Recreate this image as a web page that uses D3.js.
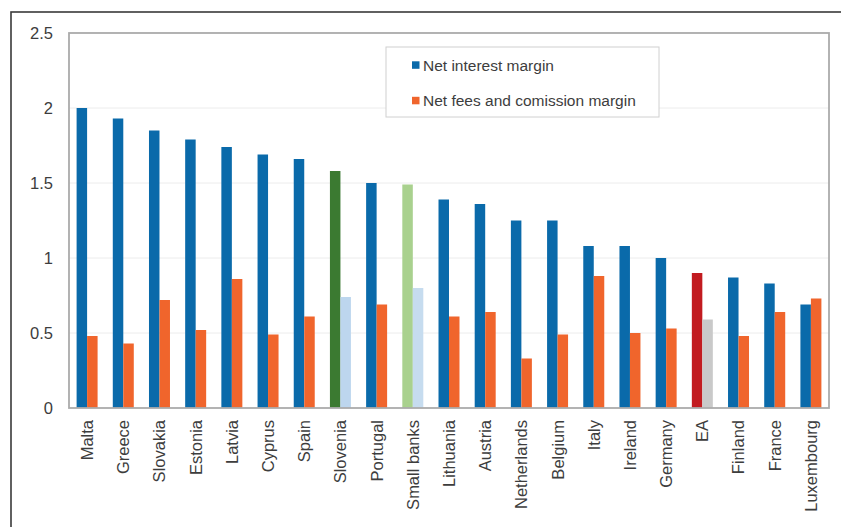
<!DOCTYPE html>
<html>
<head>
<meta charset="utf-8">
<script src="https://cdn.jsdelivr.net/npm/d3@7/dist/d3.min.js"></script>
<style>
  html, body { margin: 0; padding: 0; background: #fff; }
  svg { display: block; font-family: "Liberation Sans", Arial, sans-serif; }
</style>
</head>
<body>
<svg id="chart" width="841" height="527"></svg>
<script>
// Banking margins by country (percent of assets)
const categories = ["Malta", "Greece", "Slovakia", "Estonia", "Latvia", "Cyprus", "Spain",
  "Slovenia", "Portugal", "Small banks", "Lithuania", "Austria", "Netherlands", "Belgium",
  "Italy", "Ireland", "Germany", "EA", "Finland", "France", "Luxembourg"];
const netInterestMargin = [2.00, 1.93, 1.85, 1.79, 1.74, 1.69, 1.66,
  1.58, 1.50, 1.49, 1.39, 1.36, 1.25, 1.25,
  1.08, 1.08, 1.00, 0.90, 0.87, 0.83, 0.69];
const netFeesMargin = [0.48, 0.43, 0.72, 0.52, 0.86, 0.49, 0.61,
  0.74, 0.69, 0.80, 0.61, 0.64, 0.33, 0.49,
  0.88, 0.50, 0.53, 0.59, 0.48, 0.64, 0.73];
const seriesNames = ["Net interest margin", "Net fees and comission margin"];
const yTicks = [0, 0.5, 1, 1.5, 2, 2.5];
const yTickLabels = ["0", "0.5", "1", "1.5", "2", "2.5"];

// Colours: default pair, with highlighted groups
const defaultColors = ["#0a6aaa", "#f0652c"];
const highlightColors = {
  "Slovenia": ["#3b7a31", "#bdd6ee"],
  "Small banks": ["#a9d18e", "#c6dcef"],
  "EA": ["#c21b20", "#c9c9c9"]
};

const svg = d3.select("#chart");
const plot = { left: 69, right: 829, top: 33, bottom: 408 };

// Outer frame
svg.append("rect")
  .attr("x", 11).attr("y", 12)
  .attr("width", 850).attr("height", 540)
  .attr("fill", "none").attr("stroke", "#3a3a3a").attr("stroke-width", 1.6);

const x = d3.scaleBand().domain(categories)
  .range([plot.left, plot.right]).paddingInner(0.42).paddingOuter(0.21);
const xInner = d3.scaleBand().domain([0, 1]).range([0, x.bandwidth()]).padding(0);
const y = d3.scaleLinear().domain([0, 2.5]).range([plot.bottom, plot.top]);

// Gridlines
svg.append("g").selectAll("line")
  .data(yTicks.filter(t => t > 0 && t < 2.5))
  .join("line")
  .attr("x1", plot.left).attr("x2", plot.right)
  .attr("y1", d => y(d)).attr("y2", d => y(d))
  .attr("stroke", "#ececec").attr("stroke-width", 1);

// Y axis labels
const yAxis = d3.axisLeft(y).tickValues(yTicks)
  .tickFormat((d, i) => yTickLabels[i]).tickSize(0).tickPadding(16);
const yg = svg.append("g").attr("transform", `translate(${plot.left},0)`).call(yAxis);
yg.select(".domain").remove();
yg.selectAll("text").attr("font-size", "16.5px").attr("fill", "#3d3d3d")
  .attr("font-family", "Liberation Sans, Arial, sans-serif");

// Bars
const groups = svg.append("g").selectAll("g")
  .data(categories.map((c, i) => ({ c, vals: [netInterestMargin[i], netFeesMargin[i]] })))
  .join("g")
  .attr("transform", d => `translate(${x(d.c)},0)`);

groups.selectAll("rect")
  .data(d => d.vals.map((v, k) => ({ c: d.c, k, v })))
  .join("rect")
  .attr("x", d => xInner(d.k))
  .attr("width", xInner.bandwidth())
  .attr("y", d => y(d.v))
  .attr("height", d => y(0) - y(d.v))
  .attr("fill", d => (highlightColors[d.c] || defaultColors)[d.k]);

// Plot border
svg.append("rect")
  .attr("x", plot.left).attr("y", plot.top)
  .attr("width", plot.right - plot.left).attr("height", plot.bottom - plot.top)
  .attr("fill", "none").attr("stroke", "#ababab").attr("stroke-width", 1.8);

// Category labels (rotated)
const xAxis = d3.axisBottom(x).tickSize(0).tickPadding(0);
const xg = svg.append("g").attr("transform", `translate(0,${plot.bottom})`).call(xAxis);
xg.select(".domain").remove();
xg.selectAll("text")
  .attr("font-size", "16.5px").attr("fill", "#3d3d3d")
  .attr("font-family", "Liberation Sans, Arial, sans-serif")
  .attr("text-anchor", "end")
  .attr("transform", "translate(0,12) rotate(-90)")
  .attr("x", 0).attr("y", 0).attr("dy", "0.36em");

// Legend
const legend = svg.append("g");
legend.append("rect")
  .attr("x", 386).attr("y", 47).attr("width", 273).attr("height", 70)
  .attr("fill", "#fff").attr("stroke", "#d0d0d0").attr("stroke-width", 1);
seriesNames.forEach((name, k) => {
  const cy = 65 + k * 35.5;
  legend.append("rect")
    .attr("x", 412).attr("y", cy - 3.7).attr("width", 7.5).attr("height", 7.5)
    .attr("fill", defaultColors[k]);
  legend.append("text")
    .attr("x", 423).attr("y", cy).attr("dy", "0.36em")
    .attr("font-size", "15.5px").attr("fill", "#3d3d3d")
    .text(name);
});
</script>
</body>
</html>
